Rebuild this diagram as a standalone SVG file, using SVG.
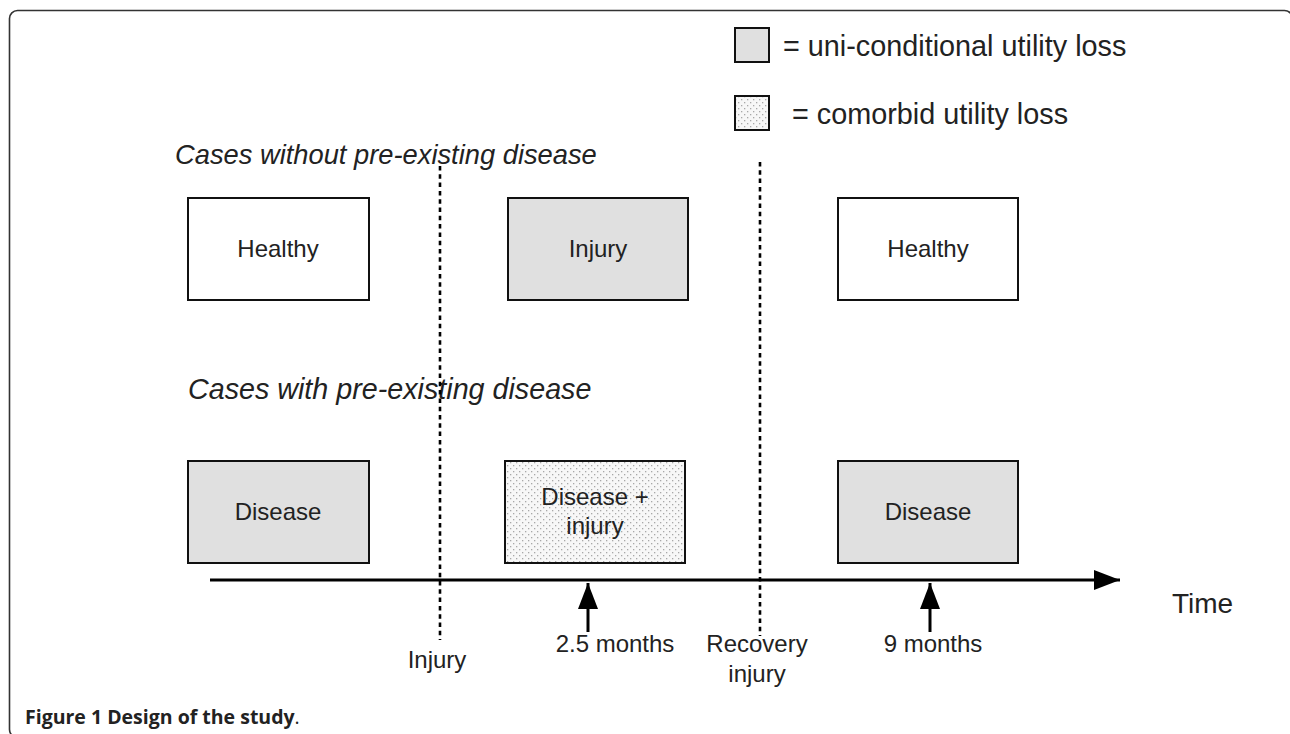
<svg xmlns="http://www.w3.org/2000/svg" width="1290" height="734" viewBox="0 0 1290 734">
<defs>
<pattern id="dots" x="0" y="0" width="6" height="6" patternUnits="userSpaceOnUse">
<rect width="6" height="6" fill="#f7f7f7"/>
<rect x="0" y="0" width="1.3" height="1.3" fill="#a8a8a8"/>
<rect x="3" y="3" width="1.3" height="1.3" fill="#a8a8a8"/>
</pattern>
<marker id="ahR" viewBox="0 0 26 20" refX="26" refY="10" markerWidth="26" markerHeight="20" markerUnits="userSpaceOnUse" orient="auto">
<path d="M0,0 L26,10 L0,20 Z" fill="#000"/>
</marker>
<marker id="ahU" viewBox="0 0 20 26" refX="10" refY="0" markerWidth="20" markerHeight="26" markerUnits="userSpaceOnUse" orient="0">
<path d="M10,0 L20,26 L0,26 Z" fill="#000"/>
</marker>
</defs>
<style>
.box{stroke:#111;stroke-width:2}
.plain{fill:#fff}
.uni{fill:#e0e0e0}
.com{fill:url(#dots)}
.t{font-family:"Liberation Sans",Arial,sans-serif;fill:#222}
.bt{font-size:24px;text-anchor:middle}
.lt{font-size:28.8px}
.it{font-style:italic}
.lab{font-size:24px;text-anchor:middle}
.dot{stroke:#000;stroke-width:2.6;stroke-dasharray:4.5 3.8;fill:none}
.cap{font-family:"Open Sans","Liberation Sans",sans-serif;font-size:19.5px;fill:#222}
</style>
<rect x="9.5" y="10.5" width="1283" height="727" rx="8" fill="#fff" stroke="#333" stroke-width="1.6"/>

<g id="legend">
<rect class="box uni" x="735" y="28" width="34" height="34"/>
<text class="t lt" x="783" y="56">= uni-conditional utility loss</text>
<rect class="box com" x="735" y="96" width="34" height="34"/>
<text class="t lt" x="792" y="124">= comorbid utility loss</text>
</g>

<text class="t it" font-size="27.3" x="175" y="164">Cases without pre-existing disease</text>
<text class="t it" font-size="28.7" x="188" y="399">Cases with pre-existing disease</text>

<g id="connectors">
<line class="dot" x1="440" y1="166" x2="440" y2="640"/>
<line class="dot" x1="760" y1="162" x2="760" y2="636"/>
<line x1="210" y1="580" x2="1120" y2="580" stroke="#000" stroke-width="3" marker-end="url(#ahR)"/>
<line x1="588" y1="632" x2="588" y2="583" stroke="#000" stroke-width="3" marker-end="url(#ahU)"/>
<line x1="930" y1="632" x2="930" y2="583" stroke="#000" stroke-width="3" marker-end="url(#ahU)"/>
</g>

<g id="healthy1"><rect class="box plain" x="188" y="198" width="181" height="102"/><text class="t bt" x="278" y="257">Healthy</text></g>
<g id="injury1"><rect class="box uni" x="508" y="198" width="180" height="102"/><text class="t bt" x="598" y="257">Injury</text></g>
<g id="healthy2"><rect class="box plain" x="838" y="198" width="180" height="102"/><text class="t bt" x="928" y="257">Healthy</text></g>

<g id="disease1"><rect class="box uni" x="188" y="461" width="181" height="102"/><text class="t bt" x="278" y="520">Disease</text></g>
<g id="disinj"><rect class="box com" x="505" y="461" width="180" height="102"/><text class="t bt" x="595" y="505">Disease +</text><text class="t bt" x="595" y="534">injury</text></g>
<g id="disease2"><rect class="box uni" x="838" y="461" width="180" height="102"/><text class="t bt" x="928" y="520">Disease</text></g>

<text class="t" font-size="28" x="1172" y="613">Time</text>
<text class="t lab" x="437" y="668">Injury</text>
<text class="t lab" x="615" y="652">2.5 months</text>
<text class="t lab" x="757" y="652">Recovery</text>
<text class="t lab" x="757" y="682">injury</text>
<text class="t lab" x="933" y="652">9 months</text>

<text class="cap" x="25" y="724"><tspan font-weight="700">Figure 1 Design of the study</tspan>.</text>
</svg>
